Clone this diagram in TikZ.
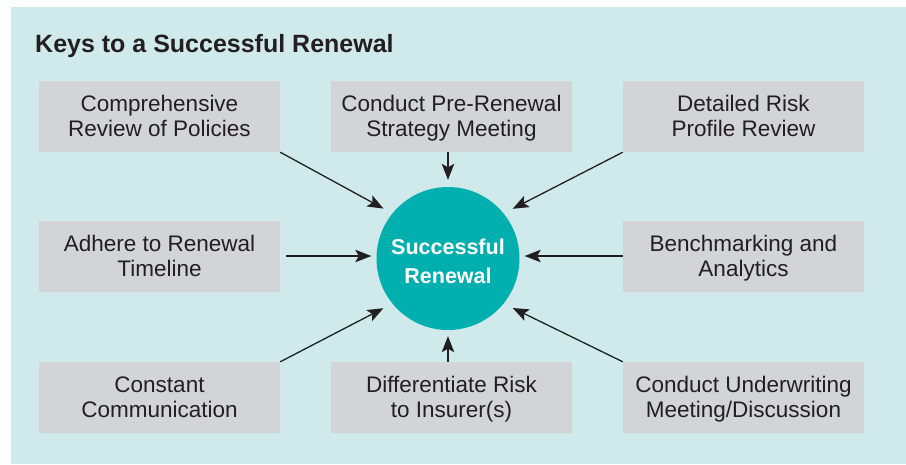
\documentclass[tikz,border=0pt]{standalone}
\usepackage{fontspec}
\setmainfont{Liberation Sans}
\usetikzlibrary{arrows.meta,calc}
\definecolor{panelbg}{HTML}{D0EAEB}
\definecolor{boxbg}{HTML}{D3D4D6}
\definecolor{hub}{HTML}{00AFAE}
\definecolor{ink}{HTML}{231F20}
\newcommand\bxs{\rule[-5pt]{0pt}{25pt}}
\newcommand\hbs{\rule[-4pt]{0pt}{28pt}}
\begin{document}
\begin{tikzpicture}[x=1pt,y=-1pt,
  keybox/.style={fill=boxbg, draw=none, minimum width=241pt, minimum height=71pt,
    inner sep=0pt, align=center, text=ink, font=\fontsize{22.5}{25}\selectfont},
  hubnode/.style={circle, fill=hub, draw=none, minimum size=143pt, inner sep=0pt,
    align=center, text=white, font=\bfseries\fontsize{21.5}{29}\selectfont},
  arr/.style={draw=ink, line width=1.3pt, -{Stealth[length=16pt,width=12.5pt,inset=3.5pt]}}
]
\useasboundingbox (0,0) rectangle (906,464);
\fill[panelbg] (11,7) rectangle (906,464);
\node[anchor=base west, inner sep=0pt, text=ink, font=\bfseries\fontsize{25}{30}\selectfont] (title) at (35,52) {Keys to a Successful Renewal};

\node[keybox] (tl) at (159.5,116.5) {\bxs Comprehensive\\Review of Policies\bxs};
\node[keybox] (tm) at (451.5,116.5) {\bxs Conduct Pre-Renewal\\Strategy Meeting\bxs};
\node[keybox] (tr) at (743.5,116.5) {\bxs Detailed Risk\\Profile Review\bxs};
\node[keybox] (ml) at (159.5,256) {\bxs Adhere to Renewal\\Timeline\bxs};
\node[keybox] (mr) at (743.5,256) {\bxs Benchmarking and\\Analytics\bxs};
\node[keybox] (bl) at (159.5,397.5) {\bxs Constant\\Communication\bxs};
\node[keybox] (bm) at (451.5,397.5) {\bxs Differentiate Risk\\to Insurer(s)\bxs};
\node[keybox] (br) at (743.5,397.5) {\bxs Conduct Underwriting\\Meeting/Discussion\bxs};

\node[hubnode] (c) at (448,258.5) {\hbs Successful\\Renewal\hbs};

\draw[arr, shorten >=10pt] (tl.south east) -- (c.141);
\draw[arr, shorten >=10pt] (tr.south west) -- (c.39);
\draw[arr, shorten >=10pt] (bl.north east) -- (c.219);
\draw[arr, shorten >=10pt] (br.north west) -- (c.321);
\draw[arr, shorten >=7pt] (tm.south -| c) -- (c.north);
\draw[arr, shorten >=6pt] (bm.north -| c) -- (c.south);
\draw[arr, shorten <=6pt, shorten >=5pt] (ml.east) -- (ml.east -| c.west);
\draw[arr, shorten >=5pt] (mr.west) -- (mr.west -| c.east);
\end{tikzpicture}
\end{document}
